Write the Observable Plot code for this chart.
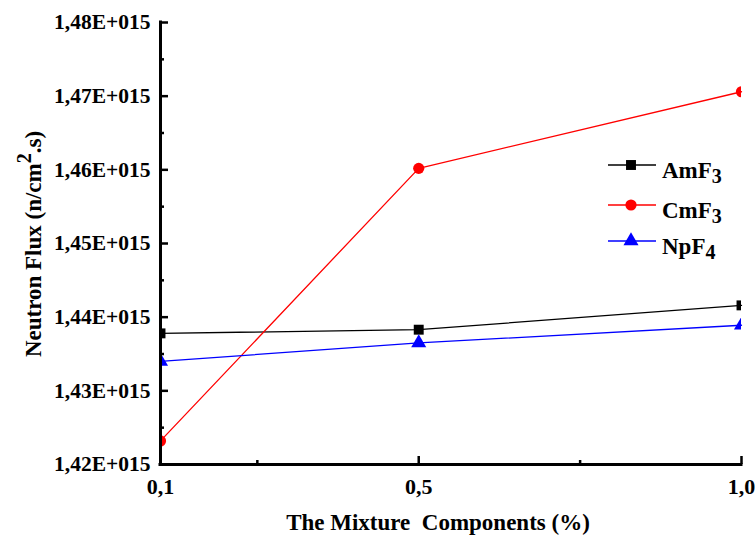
<!DOCTYPE html>
<html><head><meta charset="utf-8">
<script src="https://cdn.jsdelivr.net/npm/d3@7"></script>
<script src="https://cdn.jsdelivr.net/npm/@observablehq/plot@0.6"></script>
<style>
body{margin:0;background:#fff;}
#chart{position:relative;width:755px;height:535px;}
</style></head><body><div id="chart"></div>
<script>
// ---- data ----
const xValues = [0.1, 0.5, 1.0];
const amf3Values = [1.4378e15, 1.4383e15, 1.4416e15];
const cmf3Values = [1.4232e15, 1.4602e15, 1.4706e15];
const npf4Values = [1.4340e15, 1.4365e15, 1.4389e15];
const seriesNames = ["AmF3", "CmF3", "NpF4"];
const seriesBase = ["AmF", "CmF", "NpF"];
const seriesSub = ["3", "3", "4"];
const seriesColors = ["#000000", "#ff0000", "#0000ff"];
const seriesSymbols = ["square", "circle", "triangle"];
const yMajorTicks = [1.42e15, 1.43e15, 1.44e15, 1.45e15, 1.46e15, 1.47e15, 1.48e15];
const yMinorTicks = [1.425e15, 1.435e15, 1.445e15, 1.455e15, 1.465e15, 1.475e15];
const xMajorTicks = [0.1, 0.5, 1.0];
const xMinorTicks = [0.25, 0.75];
const xLabel = "The Mixture  Components (%)";

// ---- layout ----
const W = 755, H = 535, mL = 160, mR = 14, mT = 22, mB = 71;
const plotW = W - mL - mR, plotH = H - mT - mB;
const FONT = "'Liberation Serif','Times New Roman',serif";
const FS = 23;

const allValues = [amf3Values, cmf3Values, npf4Values];
const rows = seriesNames.flatMap((name, s) =>
  xValues.map((x, i) => ({x, y: allValues[s][i], name})));

const fmtY = d => d3.format(".2f")(d / 1e15).replace(".", ",") + "E+015";
const fmtX = d => d3.format(".1f")(d).replace(".", ",");

const plot = Plot.plot({
  width: W, height: H,
  marginLeft: mL, marginRight: mR, marginTop: mT, marginBottom: mB,
  x: {domain: [0.1, 1.0]},
  y: {domain: [1.42e15, 1.48e15]},
  color: {domain: seriesNames, range: seriesColors},
  symbol: {domain: seriesNames, range: seriesSymbols},
  style: {fontFamily: FONT, fontWeight: "bold", fontSize: FS + "px", color: "#000", background: "#fff"},
  marks: [
    Plot.axisY(yMajorTicks, {tickSize: 0, tickPadding: 10, tickFormat: fmtY, label: null, fontSize: 21.5, fontWeight: "bold"}),
    Plot.axisX(xMajorTicks, {tickSize: 0, tickPadding: 14, tickFormat: fmtX, label: null, fontSize: 22, fontWeight: "bold"}),
    Plot.tickY(yMajorTicks, {y: d => d, insetRight: plotW - 8, strokeWidth: 2.5}),
    Plot.tickY(yMinorTicks, {y: d => d, insetRight: plotW - 4, strokeWidth: 2.5}),
    Plot.tickX(xMajorTicks, {x: d => d, insetTop: plotH - 8, strokeWidth: 2.5}),
    Plot.tickX(xMinorTicks, {x: d => d, insetTop: plotH - 4, strokeWidth: 2.5}),
    Plot.line(rows, {x: "x", y: "y", stroke: "name", strokeWidth: 1.3}),
    Plot.dot(rows, {x: "x", y: "y", fill: "name", symbol: "name", r: 5.6, clip: true}),
    Plot.ruleX([0.1], {strokeWidth: 3, strokeLinecap: "square"}),
    Plot.ruleY([1.42e15], {strokeWidth: 3, strokeLinecap: "square"})
  ]
});
document.getElementById("chart").appendChild(plot);

const svg = d3.select(plot);
// y axis title
const yt = svg.append("text")
  .attr("transform", "translate(41,244) rotate(-90)")
  .attr("text-anchor", "middle")
  .style("font-family", FONT).style("font-weight", "bold").style("font-size", FS + "px")
  .attr("fill", "#000");
yt.append("tspan").text("Neutron Flux (n/cm");
yt.append("tspan").attr("dy", -10).style("font-size", "20px").text("2");
yt.append("tspan").attr("dy", 10).text(".s)");

// x axis title
svg.append("text")
  .attr("x", 438).attr("y", 530)
  .attr("text-anchor", "middle")
  .style("white-space", "pre")
  .style("font-family", FONT).style("font-weight", "bold").style("font-size", FS + "px")
  .attr("fill", "#000")
  .text(xLabel);

// legend
const legendY = [165, 205, 241];
const lg = svg.append("g").attr("text-anchor", "start");
seriesNames.forEach((name, i) => {
  const y = legendY[i];
  lg.append("line").attr("x1", 608).attr("x2", 656).attr("y1", y).attr("y2", y)
    .attr("stroke", seriesColors[i]).attr("stroke-width", 1.3);
  const sym = {square: d3.symbolSquare, circle: d3.symbolCircle, triangle: d3.symbolTriangle}[seriesSymbols[i]];
  lg.append("path").attr("d", d3.symbol(sym, 5.6 * 5.6 * Math.PI)())
    .attr("transform", `translate(631,${y})`).attr("fill", seriesColors[i]);
  const t = lg.append("text").attr("x", 662).attr("y", y + 13).attr("text-anchor", "start")
    .style("font-family", FONT).style("font-weight", "bold").style("font-size", FS + "px").attr("fill", "#000");
  t.append("tspan").text(seriesBase[i]);
  t.append("tspan").attr("dy", 5).style("font-size", "20px").text(seriesSub[i]);
});
</script></body></html>
